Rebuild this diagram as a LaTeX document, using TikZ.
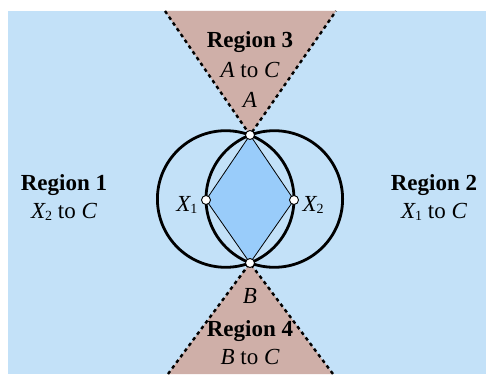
\documentclass[tikz,border=0pt]{standalone}
\usepackage{fontspec}
\setmainfont{Liberation Serif}
\newcommand{\subnum}[1]{\raisebox{-0.2ex}{\fontsize{14}{14}\selectfont\upshape #1}}
\begin{document}
\begin{tikzpicture}[x=1pt,y=-1pt,
  bgfill/.style={fill={rgb,255:red,195;green,225;blue,248}},
  trifill/.style={fill={rgb,255:red,207;green,175;blue,168}},
  dashline/.style={draw=black,line width=2.4pt,dash pattern=on 3.5pt off 3.5pt},
  circ/.style={draw=black,line width=2.8pt},
  pt/.style={circle,draw=black,fill=white,line width=0.9pt,inner sep=0pt,minimum size=9pt},
  lbl/.style={font=\fontsize{23}{25}\selectfont,align=center},
  reg/.style={font=\fontsize{23}{25}\selectfont\bfseries}
]
\useasboundingbox (0,0) rectangle (486,374);
\fill[white] (0,0) rectangle (486,374);
\fill[bgfill] (8,11) rectangle (486,374);
% points
\coordinate (At) at (250,135);
\coordinate (Bt) at (250,263);
\coordinate (TL) at (165,11);
\coordinate (TR) at (336,11);
\coordinate (BL) at (168,374);
\coordinate (BR) at (333,374);
\fill[trifill] (TL) -- (At) -- (TR) -- cycle;
\fill[trifill] (BL) -- (Bt) -- (BR) -- cycle;
\draw[dashline] (TL) -- (At) -- (TR);
\draw[dashline] (BL) -- (Bt) -- (BR);
% diamond
\coordinate (X1c) at (206,200);
\coordinate (X2c) at (294,200);
\filldraw[fill={rgb,255:red,153;green,204;blue,250},draw=black,line width=0.8pt] (At) -- (X2c) -- (Bt) -- (X1c) -- cycle;
% circles
\draw[circ] (225.7,199) circle[radius=68.3];
\draw[circ] (274.3,199) circle[radius=68.3];
% point nodes
\node[pt] (A) at (At) {};
\node[pt] (B) at (Bt) {};
\node[pt] (X1) at (X1c) {};
\node[pt] (X2) at (X2c) {};
% labels
\node[lbl] (lA) at (250,100) {\itshape A};
\node[lbl] (lB) at (250,296) {\itshape B};
\node[lbl,anchor=east] (lX1) at (201,205) {\itshape X\subnum{1}};
\node[lbl,anchor=west] (lX2) at (299,205) {\itshape X\subnum{2}};
\node[reg] (r3) at (250,42) {Region 3};
\node[lbl] (r3t) at (250,70) {\itshape A\upshape{} to \itshape C};
\node[reg] (r4) at (250,331) {Region 4};
\node[lbl] (r4t) at (250,357) {\itshape B\upshape{} to \itshape C};
\node[reg] (r1) at (64,185) {Region 1};
\node[lbl] (r1t) at (64,212) {\itshape X\subnum{2}\upshape{} to \itshape C};
\node[reg] (r2) at (434,185) {Region 2};
\node[lbl] (r2t) at (434,212) {\itshape X\subnum{1}\upshape{} to \itshape C};
\end{tikzpicture}
\end{document}
